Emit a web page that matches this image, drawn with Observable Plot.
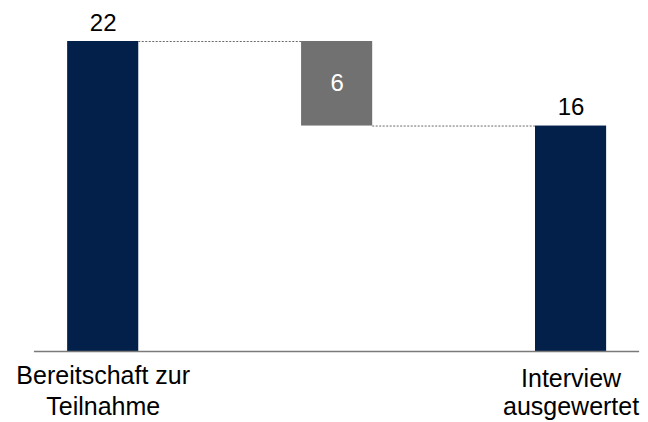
<!DOCTYPE html>
<html><head><meta charset="utf-8">
<script src="https://cdn.jsdelivr.net/npm/d3@7"></script>
<script src="https://cdn.jsdelivr.net/npm/@observablehq/plot@0.6"></script>
<style>html,body{margin:0;padding:0;background:#fff}svg{display:block}</style>
</head><body><div id="chart"></div>
<script>
// Data
const categories = ["Bereitschaft zur\nTeilnahme", "", "Interview\nausgewertet"];
const values = [22, -6, 16];
const kinds = ["total", "delta", "total"];
const valueLabels = ["22", "6", "16"];

const hw = 0.152; // half bar width in category units
const rows = [];
let level = 0;
values.forEach((v, i) => {
  let y1, y2;
  if (kinds[i] === "total") { y1 = 0; y2 = v; }
  else { y1 = level; y2 = level + v; }
  level = y2;
  rows.push({i, cat: categories[i], y1, y2, top: Math.max(y1, y2), mid: (y1 + y2) / 2, label: valueLabels[i], kind: kinds[i]});
});
const connectors = rows.slice(0, -1).map((r, k) => ({x1: r.i + hw, x2: rows[k + 1].i - hw, y: r.y2}));

const chart = Plot.plot({
  width: 648, height: 422,
  marginTop: 41, marginBottom: 71, marginLeft: 0, marginRight: 0,
  x: {type: "linear", domain: [-0.439, 2.331], axis: null},
  y: {domain: [0, 22], axis: null},
  style: {fontFamily: "'Liberation Sans', Arial, sans-serif", background: "#fff"},
  marks: [
    Plot.rectY(rows, {x1: d => d.i - hw, x2: d => d.i + hw, y1: "y1", y2: "y2",
      fill: d => d.kind === "total" ? "#03204a" : "#717171"}),
    Plot.ruleY([0], {x1: () => -0.294, x2: () => 2.293, stroke: "#7a7a7a", strokeWidth: 1.5}),
    Plot.ruleY(connectors, {x1: "x1", x2: "x2", y: "y", stroke: "#6a6a6a", strokeWidth: 1, strokeDasharray: "2,1.5"}),
    Plot.text(rows.filter(d => d.kind === "total"), {x: "i", y: "top", text: "label", lineAnchor: "bottom", dy: -11, fontSize: 24, fill: "#000"}),
    Plot.text(rows.filter(d => d.kind === "delta"), {x: "i", y: "mid", text: "label", fontSize: 24, fill: "#fff"}),
    Plot.text(rows.filter(d => d.i === 0), {x: "i", y: () => 0, text: "cat", lineAnchor: "top", dy: 11, lineHeight: 1.22, fontSize: 25, fill: "#000"}),
    Plot.text(rows.filter(d => d.i === 2), {x: "i", y: () => 0, text: "cat", lineAnchor: "top", dy: 16, lineHeight: 1.1, fontSize: 25, fill: "#000"})
  ]
});
document.getElementById("chart").appendChild(chart);
</script>
</body></html>
